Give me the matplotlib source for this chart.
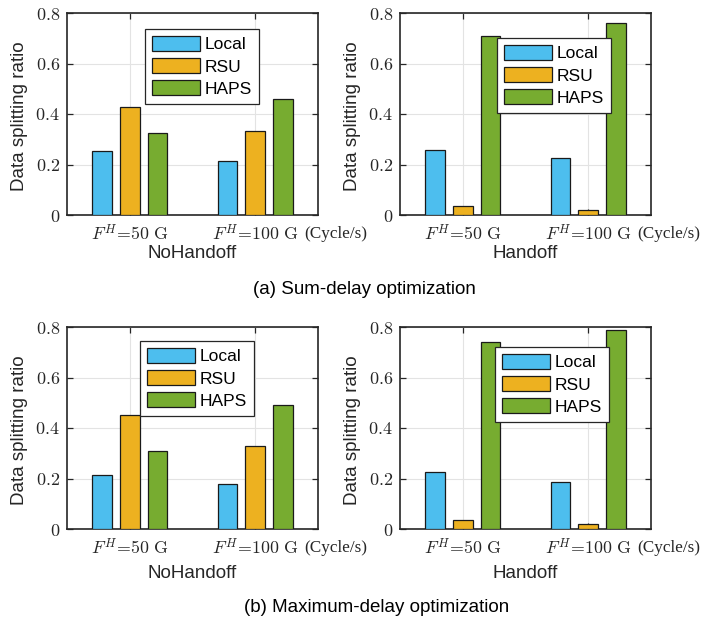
import numpy as np
import matplotlib
matplotlib.use("Agg")
import matplotlib.pyplot as plt

plt.rcParams['font.family'] = ['Liberation Sans', 'DejaVu Sans']
plt.rcParams['mathtext.fontset'] = 'cm'

# data
series = ['Local', 'RSU', 'HAPS']
colours = ['#4DBEEE', '#EDB120', '#77AC30']
groups = [r'$F^{H}\!=\!50\ \mathrm{G}$', r'$F^{H}\!=\!100\ \mathrm{G}$']

sum_nohandoff = [[0.254, 0.212], [0.427, 0.332], [0.323, 0.460]]
sum_handoff   = [[0.257, 0.225], [0.036, 0.020], [0.710, 0.759]]
max_nohandoff = [[0.213, 0.177], [0.453, 0.328], [0.307, 0.493]]
max_handoff   = [[0.224, 0.188], [0.034, 0.018], [0.739, 0.790]]

yticks = [0, 0.2, 0.4, 0.6, 0.8]
ytick_labels = [r'$0$', r'$0.2$', r'$0.4$', r'$0.6$', r'$0.8$']


def drawPanel(ax, values, legpos):
    x = np.arange(1, len(groups) + 1)
    for k in range(len(series)):
        ax.bar(x + (k - 1) * 0.222, values[k], 0.156, color=colours[k],
               edgecolor='#1a1a1a', linewidth=0.9, label=series[k], zorder=3)
    ax.set_xlim(0.5, 2.5)
    ax.set_ylim(0, 0.8)
    ax.set_xticks(x)
    ax.set_xticklabels(groups, fontsize=12.8, color='#262626')
    ax.set_yticks(yticks)
    ax.set_yticklabels(ytick_labels, fontsize=13, color='#262626')
    ax.tick_params(direction='in', top=True, right=True, length=4,
                   width=0.9, color='#262626')
    ax.tick_params(axis='x', pad=6.5)
    ax.tick_params(axis='y', pad=5)
    ax.grid(True, color='#e3e3e3', linewidth=0.8, zorder=0)
    ax.set_axisbelow(True)
    for sp in ax.spines.values():
        sp.set_linewidth(1.2)
        sp.set_color('#262626')
    ax.annotate('(Cycle/s)', xy=(0.945, 0), xycoords='axes fraction',
                xytext=(0, -16.5), textcoords='offset points', color='#262626',
                ha='left', va='baseline', fontsize=12.3, family='Liberation Serif',
                annotation_clip=False)
    leg = ax.legend(loc='upper left', bbox_to_anchor=legpos, borderaxespad=0,
                    fontsize=12.5, handlelength=2.75, handleheight=0.95,
                    handletextpad=0.3, labelspacing=0.33, borderpad=0.4,
                    fancybox=False, framealpha=1, edgecolor='#262626')
    leg.get_frame().set_linewidth(0.9)


fig = plt.figure(figsize=(7.15, 6.18), dpi=100)
W, H = 715.0, 618.0
aw, ah = 251 / W, 202 / H

ax1 = fig.add_axes([67 / W, (H - 215) / H, aw, ah])
ax2 = fig.add_axes([400 / W, (H - 215) / H, aw, ah])
ax3 = fig.add_axes([67 / W, (H - 529) / H, aw, ah])
ax4 = fig.add_axes([400 / W, (H - 529) / H, aw, ah])

drawPanel(ax1, sum_nohandoff, (0.311, 0.921))
drawPanel(ax2, sum_handoff, (0.386, 0.876))
drawPanel(ax3, max_nohandoff, (0.291, 0.931))
drawPanel(ax4, max_handoff, (0.378, 0.901))

# y labels and panel names
for xl in [19.5, 352.5]:
    for yc in [116, 430]:
        fig.text(xl / W, (H - yc) / H, 'Data splitting ratio', rotation=90,
                 ha='center', va='center', fontsize=13.5, color='#262626')
for yc in [253, 573]:
    fig.text(192.5 / W, (H - yc) / H, 'NoHandoff',
             ha='center', va='center', fontsize=13.5, color='#262626')
    fig.text(525.5 / W, (H - yc) / H, 'Handoff',
             ha='center', va='center', fontsize=13.5, color='#262626')

fig.text(364 / W, (H - 290) / H, '(a) Sum-delay optimization',
         ha='center', va='center', fontsize=13.5)
fig.text(377 / W, (H - 607) / H, '(b) Maximum-delay optimization',
         ha='center', va='center', fontsize=13.5)

fig.savefig('out.png', dpi=100)
